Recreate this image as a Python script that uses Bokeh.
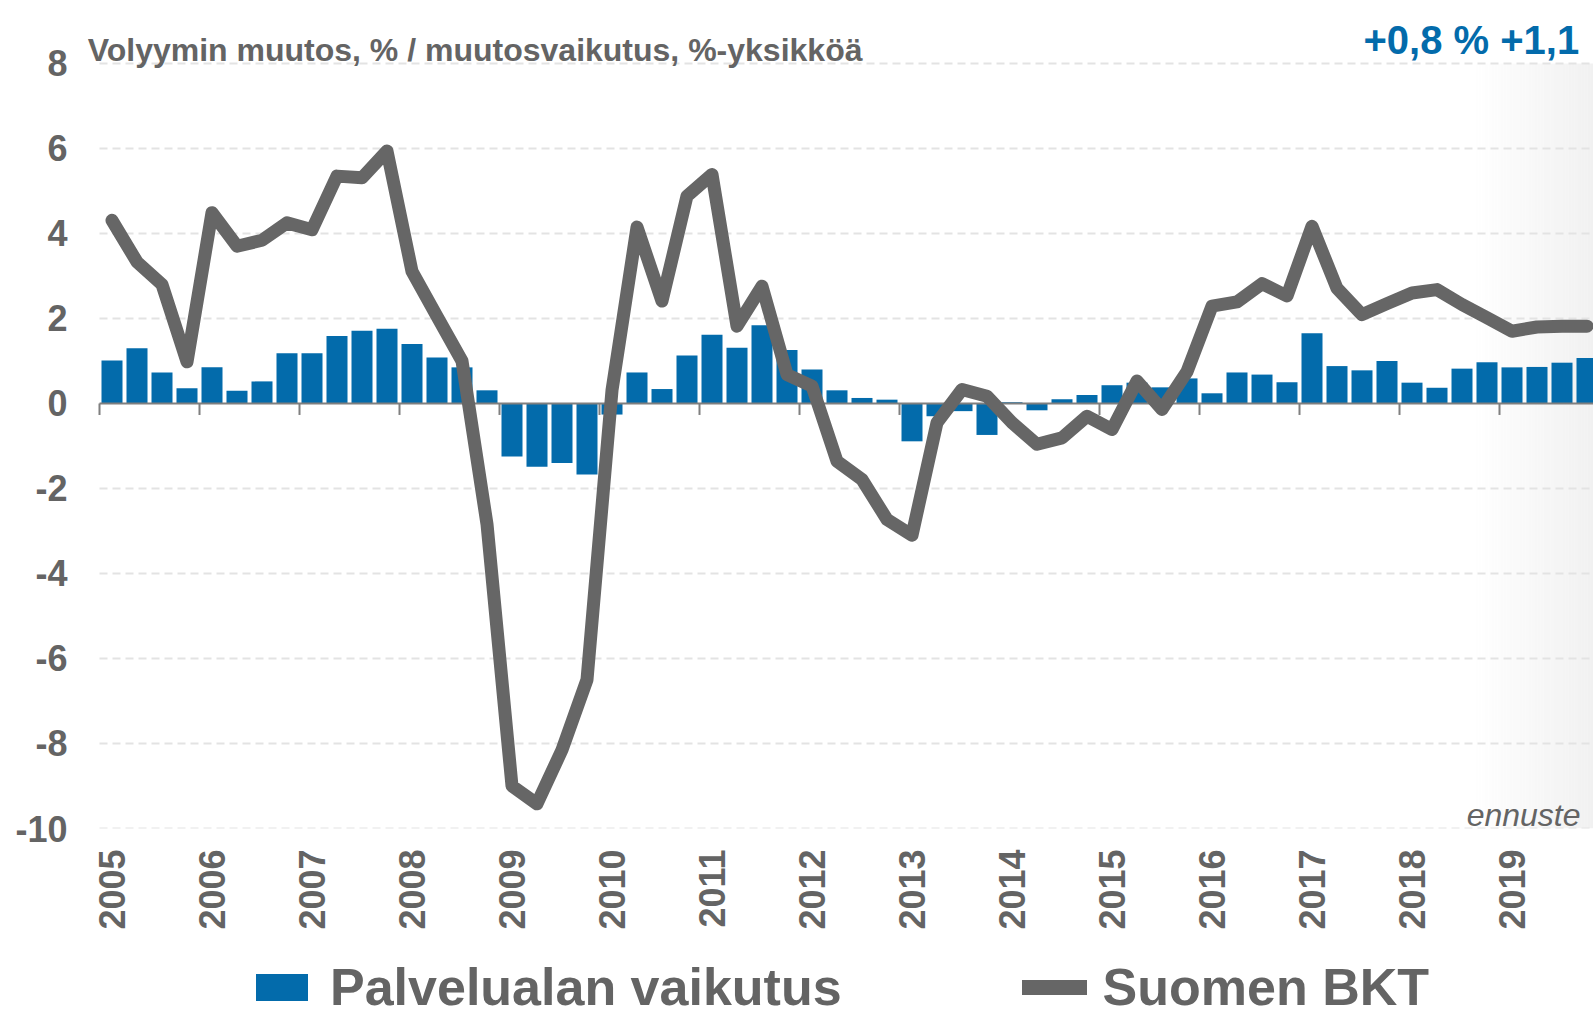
import math
import numpy as np
from bokeh.plotting import figure
from bokeh.layouts import column
from bokeh.models import Range1d, FixedTicker, Label, Legend, LegendItem
from bokeh.embed import file_html
from bokeh.resources import INLINE

# ---------------- data ----------------
years = [str(y) for y in range(2005, 2020)]
quarters = [f"{y}Q{q}" for y in years for q in range(1, 5)]

palvelu = [
    1.01, 1.30, 0.73, 0.36,    # 2005
    0.85, 0.30, 0.52, 1.18,    # 2006
    1.18, 1.59, 1.71, 1.76,    # 2007
    1.40, 1.08, 0.85, 0.31,    # 2008
    -1.25, -1.49, -1.40, -1.67,  # 2009
    -0.26, 0.73, 0.34, 1.13,   # 2010
    1.62, 1.31, 1.84, 1.26,    # 2011
    0.80, 0.31, 0.13, 0.09,    # 2012
    -0.89, -0.30, -0.18, -0.74,  # 2013
    0.03, -0.16, 0.10, 0.20,   # 2014
    0.43, 0.49, 0.38, 0.59,    # 2015
    0.24, 0.73, 0.68, 0.50,    # 2016
    1.65, 0.88, 0.78, 1.00,    # 2017
    0.49, 0.37, 0.82, 0.97,    # 2018
    0.85, 0.86, 0.96, 1.07,    # 2019
]

bkt = [
    4.31, 3.33, 2.80, 0.98,    # 2005
    4.49, 3.70, 3.84, 4.25,    # 2006
    4.09, 5.35, 5.31, 5.94,    # 2007
    3.11, 2.05, 1.00, -2.84,   # 2008
    -9.00, -9.42, -8.15, -6.50,  # 2009
    0.31, 4.15, 2.41, 4.88,    # 2010
    5.39, 1.82, 2.76, 0.68,    # 2011
    0.41, -1.36, -1.79, -2.73,  # 2012
    -3.10, -0.45, 0.33, 0.17,  # 2013
    -0.45, -0.96, -0.81, -0.30,  # 2014
    -0.61, 0.53, -0.14, 0.75,  # 2015
    2.29, 2.39, 2.82, 2.53,    # 2016
    4.17, 2.71, 2.09, 2.35,    # 2017
    2.60, 2.68, 2.33, 2.02,    # 2018
    1.70, 1.80, 1.82, 1.82,    # 2019
]

y_ticks = [8, 6, 4, 2, 0, -2, -4, -6, -8, -10]
y_tick_labels = ["8", "6", "4", "2", "0", "-2", "-4", "-6", "-8", "-10"]

title_text = "Volyymin muutos, % / muutosvaikutus, %-yksikköä"
corner_text = "+0,8 % +1,1"
forecast_text = "ennuste"
series_names = ["Palvelualan vaikutus", "Suomen BKT"]

# ---------------- styling ----------------
BLUE = "#036BAB"
GRAY = "#666666"
TXT = "#646464"
FONT = "Liberation Sans"
W = 1593
H_MAIN = 937
H_LEG = 80

x = [i + 0.5 for i in range(len(quarters))]
x_start = -0.48
x_end = 59.76
y_top = 9.482
forecast_start = 54.8

p = figure(width=W, height=H_MAIN, output_backend="svg", toolbar_location=None,
           x_range=Range1d(x_start, x_end), y_range=Range1d(-10, y_top),
           min_border_left=87, min_border_right=0, min_border_top=0,
           min_border_bottom=109)
p.outline_line_color = None
p.background_fill_color = "white"
p.border_fill_color = "white"
p.xgrid.visible = False
p.ygrid.visible = False

# forecast shading gradient
n = 40
edges = np.linspace(forecast_start, x_end, n + 1)
alphas = list(np.linspace(0.0, 0.055, n))
p.quad(left=list(edges[:-1]), right=list(edges[1:]), bottom=-10, top=8,
       fill_color="black", fill_alpha=alphas, line_color=None, level="underlay")

# dashed horizontal grid lines at the y ticks
grid_y = [t for t in y_ticks if t != 0]
p.segment(x0=[0] * len(grid_y), y0=grid_y, x1=[x_end] * len(grid_y), y1=grid_y,
          line_color="#e3e3e3", line_width=2, line_dash="8 5", level="underlay")

# bars
bars = p.vbar(x=x, top=palvelu, bottom=0, width=0.84, fill_color=BLUE, line_color=None)

# zero axis line + year ticks
year_bounds = [4 * i for i in range(len(years) + 1)]
p.segment(x0=[0], y0=[0], x1=[x_end], y1=[0], line_color="#7f7f7f", line_width=2)
p.segment(x0=year_bounds, y0=[0] * len(year_bounds), x1=year_bounds,
          y1=[-0.27] * len(year_bounds), line_color="#7f7f7f", line_width=2)

# line
line = p.line(x, bkt, line_color=GRAY, line_width=13, line_join="round", line_cap="round")

# y axis
p.yaxis.ticker = FixedTicker(ticks=y_ticks)
p.yaxis.major_label_overrides = {t: l for t, l in zip(y_ticks, y_tick_labels)}
p.yaxis.axis_line_color = None
p.yaxis.major_tick_line_color = None
p.yaxis.minor_tick_line_color = None
p.yaxis.major_label_standoff = 14
p.yaxis.major_label_text_font = FONT
p.yaxis.major_label_text_font_size = "36px"
p.yaxis.major_label_text_font_style = "bold"
p.yaxis.major_label_text_color = TXT

# x axis
xt = [4 * i + 0.5 for i in range(len(years))]
p.xaxis.ticker = FixedTicker(ticks=xt)
p.xaxis.major_label_overrides = {t: y for t, y in zip(xt, years)}
p.xaxis.major_label_orientation = math.pi / 2
p.xaxis.axis_line_color = None
p.xaxis.major_tick_line_color = None
p.xaxis.minor_tick_line_color = None
p.xaxis.major_label_standoff = 15
p.xaxis.major_label_text_font = FONT
p.xaxis.major_label_text_font_size = "36px"
p.xaxis.major_label_text_font_style = "bold"
p.xaxis.major_label_text_color = TXT

# texts
p.add_layout(Label(x=-0.47, y=8.315, text=title_text, text_font=FONT,
                   text_font_size="32px", text_font_style="bold", text_color=TXT,
                   text_baseline="alphabetic", text_align="left"))
p.add_layout(Label(x=50.56, y=8.56, text=corner_text, text_font=FONT,
                   text_font_size="40px", text_font_style="bold", text_color=BLUE,
                   text_baseline="alphabetic", text_align="left"))
p.add_layout(Label(x=59.24, y=-9.68, text=forecast_text, text_font=FONT,
                   text_font_size="32px", text_font_style="italic", text_color=TXT,
                   text_baseline="alphabetic", text_align="right"))

# ---------------- legend strip ----------------
# the strip's x range lies far away from the data, so the series drawn here
# (only to feed the legend) stay out of view
q = figure(width=W, height=H_LEG, output_backend="svg", toolbar_location=None,
           x_range=Range1d(-3000, -3000 + W), y_range=Range1d(0, H_LEG),
           min_border_left=87, min_border_right=0, min_border_top=0, min_border_bottom=0,
           x_axis_location=None, y_axis_location=None)
q.outline_line_color = None
q.xgrid.visible = False
q.ygrid.visible = False
leg_bar = q.vbar(x=x, top=palvelu, bottom=0, width=0.84, fill_color=BLUE, line_color=None)
leg_line = q.line(x, bkt, line_color=GRAY, line_width=15, line_cap="round")

legend = Legend(items=[LegendItem(label=series_names[0], renderers=[leg_bar]),
                       LegendItem(label=series_names[1], renderers=[leg_line])],
                location=(162, 0), orientation="horizontal",
                glyph_width=65, glyph_height=34, label_standoff=16, spacing=180,
                padding=0, margin=0, border_line_color=None, background_fill_alpha=0,
                label_text_font=FONT, label_text_font_size="52px",
                label_text_font_style="bold", label_text_color=TXT)
q.add_layout(legend)

open("out.html", "w").write(file_html(column(p, q, spacing=0), INLINE))
